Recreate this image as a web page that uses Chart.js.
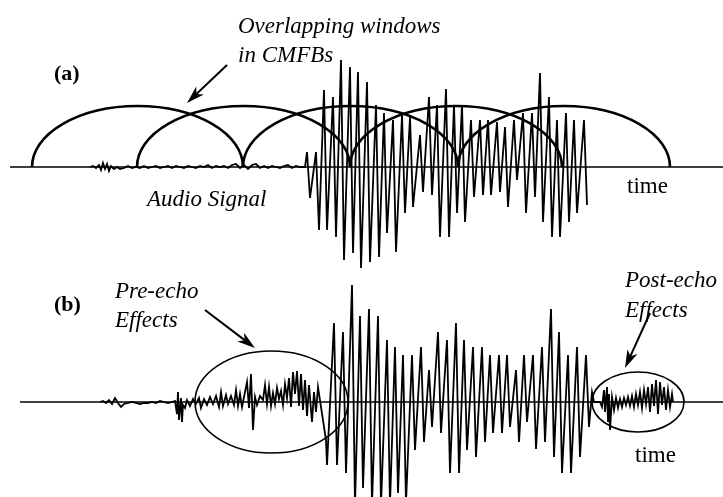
<!DOCTYPE html>
<html>
<head>
<meta charset="utf-8">
<script src="https://cdn.jsdelivr.net/npm/chart.js@4.4.1/dist/chart.umd.min.js"></script>
<style>
  html, body { margin: 0; padding: 0; background: #fff; }
  #wrap { width: 723px; height: 497px; }
</style>
</head>
<body>
<div id="wrap"><canvas id="wave" width="723" height="497"></canvas></div>
<script>
// (a) original audio signal: quiet part as [time, amplitude]
const quietA = [[90,0],[93,1],[96,-1],[99,2],[101,-3],[103,4],[105,-2],[107,3],[109,-4],[111,1],[114,-2],[117,0],
  [120,-2],[124,-1],[128,1],[132,-1],[136,0],[140,-1],[144,1],[148,-1],[152,0],[156,1],[160,-1],[164,0],[168,1],
  [172,-1],[176,1],[180,0],[184,-1],[188,1],[192,0],[196,-1],[200,1],[204,0],[208,2],[212,-1],[216,1],[220,0],
  [224,1],[228,-1],[232,2],[236,3],[240,-1],[244,2],[248,-2],[252,2],[256,3],[260,-1],[264,1],[268,-1],[272,1],
  [276,0],[280,-1],[284,1],[288,2],[292,-1],[296,1],[300,0],[305,0]];
// (a) loud part: [time, peak up, peak down]
const burstA = [[307,15,-31],[316,15,-63],[324,77,-63],[333,70,-70],[341,107,-93],[350,100,-86],[358,95,-101],
  [367,85,-95],[376,62,-90],[384,54,-66],[393,47,-85],[402,52,-46],[410,50,-40],[420,32,-25],[429,70,-28],
  [437,62,-70],[446,78,-70],[454,62,-46],[462,62,-55],[471,47,-30],[480,47,-28],[488,47,-28],[497,45,-25],
  [505,40,-40],[514,47,-13],[523,54,-46],[532,54,-30],[540,94,-55],[549,70,-70],[557,47,-70],[566,54,-55],
  [574,47,-46],[584,47,-38]];
const tailA = [[586,-8]];

// (b) coded signal
const quietB = [[100,0],[103,1],[106,-1],[109,2],[112,-2],[115,4],[118,-1],[121,-5],[124,-2],[128,-1],[132,0],
  [136,-1],[140,-2],[144,-1],[148,-1],[152,0],[156,-1],[160,1],[164,0],[168,-1],[172,0],[175,1]];
const preEchoB = [[177,-12],[178,10],[179,-18],[181,4],[182,-20],[183,-3],[185,-6],[187,2],[190,-4],[193,3],
  [196,-2],[199,4],[201,-6],[204,3],[207,-3],[210,5],[213,-2],[216,6],[219,-5],[221,10],[223,-4],[226,7],
  [228,-2],[231,6],[234,-3],[236,12],[238,-4],[240,8],[242,-5],[245,10],[247,20],[249,-6],[251,28],[253,-28],
  [255,5],[257,-3],[260,6],[263,2],[265,17],[267,-2],[269,15],[271,-4],[273,9],[275,-2],[277,14],[279,3],
  [281,11],[283,-3],[285,18],[287,4],[289,24],[291,-5],[293,30],[295,8],[297,31],[299,-4],[301,28],[303,-8],
  [305,22],[307,-14],[309,17],[312,-20],[314,10],[316,-10],[318,15],[326,-38],[327,-63]];
const burstB = [[334,79,-63],[343,70,-71],[352,117,-103],[360,86,-86],[369,93,-103],[378,86,-103],[387,62,-103],
  [395,55,-91],[403,47,-101],[412,47,-48],[421,55,-40],[429,32,-25],[438,70,-31],[447,62,-71],[456,79,-71],
  [464,62,-48],[473,55,-55],[482,55,-40],[490,47,-31],[499,47,-31],[507,47,-25],[516,32,-40],[524,47,-20],
  [533,47,-47],[542,55,-40],[551,93,-55],[559,70,-71],[568,47,-71],[577,55,-55],[586,47,-25]];
const postEchoB = [[592,10],[594,0],[600,0],[602,-5],[604,12],[605,-10],[607,15],[608,-20],[609,8],[610,-28],
  [612,5],[614,-8],[616,4],[618,-6],[620,3],[622,-5],[624,4],[626,-3],[628,5],[630,-4],[632,6],[634,-5],
  [636,8],[638,-3],[640,10],[642,-6],[644,12],[646,-2],[648,15],[650,-10],[652,18],[654,-4],[656,22],
  [658,-12],[660,20],[662,-3],[664,15],[666,-8],[668,12],[670,-5],[672,8],[673,0]];

// CMFB window edges, window i spans edges[i]..edges[i+2]
const windowEdges = [32, 137, 243, 350, 458, 562, 670];
const windowHeight = 61;
// ellipses around echo artefacts: [start, end, half height]
const echoRegions = [[195, 348, 51], [592, 684, 30]];

const toPoints = pairs => pairs.map(p => ({ x: p[0], y: p[1] }));
const burstPoints = peaks => {
  const out = [];
  peaks.forEach(p => {
    out.push({ x: p[0], y: p[1] });
    out.push({ x: p[0] + 3, y: p[2] });
  });
  return out;
};

const signalA = [...toPoints(quietA), ...burstPoints(burstA), ...toPoints(tailA)];
const signalB = [...toPoints(quietB), ...toPoints(preEchoB), ...burstPoints(burstB), ...toPoints(postEchoB)];

function arrow(ctx, x1, y1, x2, y2) {
  const ang = Math.atan2(y2 - y1, x2 - x1);
  const len = 18, half = 5.5;
  const bx = x2 - Math.cos(ang) * len, by = y2 - Math.sin(ang) * len;
  const nx = x2 - Math.cos(ang) * (len - 5), ny = y2 - Math.sin(ang) * (len - 5);
  ctx.beginPath();
  ctx.moveTo(x1, y1);
  ctx.lineTo(nx, ny);
  ctx.lineWidth = 2;
  ctx.stroke();
  ctx.beginPath();
  ctx.moveTo(x2, y2);
  ctx.lineTo(bx - Math.sin(ang) * half, by + Math.cos(ang) * half);
  ctx.lineTo(nx, ny);
  ctx.lineTo(bx + Math.sin(ang) * half, by - Math.cos(ang) * half);
  ctx.closePath();
  ctx.fill();
}

const decorations = {
  id: 'decorations',
  afterDatasetsDraw(chart) {
    const ctx = chart.ctx;
    const sx = chart.scales.x, ya = chart.scales.yA, yb = chart.scales.yB;
    const X = v => sx.getPixelForValue(v);
    const A = v => ya.getPixelForValue(v);
    const B = v => yb.getPixelForValue(v);
    ctx.save();
    ctx.strokeStyle = '#000';
    ctx.fillStyle = '#000';

    // overlapping windows
    ctx.lineWidth = 2.6;
    for (let i = 0; i + 2 < windowEdges.length; i++) {
      const x0 = X(windowEdges[i]), x1 = X(windowEdges[i + 2]);
      ctx.beginPath();
      ctx.ellipse((x0 + x1) / 2, A(0), (x1 - x0) / 2, A(0) - A(windowHeight), 0, Math.PI, 2 * Math.PI);
      ctx.stroke();
    }

    // echo ellipses
    ctx.lineWidth = 1.6;
    echoRegions.forEach(r => {
      const x0 = X(r[0]), x1 = X(r[1]);
      ctx.beginPath();
      ctx.ellipse((x0 + x1) / 2, B(0), (x1 - x0) / 2, B(0) - B(r[2]), 0, 0, 2 * Math.PI);
      ctx.stroke();
    });

    // arrows
    arrow(ctx, X(227), A(102), X(187), A(64));
    arrow(ctx, X(205), B(92), X(255), B(54));
    arrow(ctx, X(650), B(89), X(625), B(34));

    // labels
    ctx.textBaseline = 'alphabetic';
    ctx.font = 'italic 23px "Liberation Serif"';
    ctx.fillText('Overlapping windows', X(238), A(134));
    ctx.fillText('in CMFBs', X(238), A(105));
    ctx.fillText('Audio Signal', X(147), A(-39));
    ctx.fillText('Pre-echo', X(115), B(104));
    ctx.fillText('Effects', X(115), B(75));
    ctx.fillText('Post-echo', X(625), B(115));
    ctx.fillText('Effects', X(625), B(85));
    ctx.font = '23px "Liberation Serif"';
    ctx.fillText('time', X(627), A(-26));
    ctx.fillText('time', X(635), B(-60));
    ctx.font = 'bold 22px "Liberation Serif"';
    ctx.fillText('(a)', X(54), A(87));
    ctx.fillText('(b)', X(54), B(91));
    ctx.restore();
  }
};

new Chart(document.getElementById('wave'), {
  type: 'scatter',
  data: {
    datasets: [
      { data: [{ x: 10, y: 0 }, { x: 723, y: 0 }], yAxisID: 'yA', showLine: true, borderColor: '#000', borderWidth: 1.5, pointRadius: 0 },
      { data: signalA, yAxisID: 'yA', showLine: true, borderColor: '#000', borderWidth: 1.8, pointRadius: 0, tension: 0 },
      { data: [{ x: 20, y: 0 }, { x: 723, y: 0 }], yAxisID: 'yB', showLine: true, borderColor: '#000', borderWidth: 1.5, pointRadius: 0 },
      { data: signalB, yAxisID: 'yB', showLine: true, borderColor: '#000', borderWidth: 1.8, pointRadius: 0, tension: 0 }
    ]
  },
  options: {
    responsive: false,
    devicePixelRatio: 1,
    animation: false,
    layout: { padding: 0 },
    plugins: { legend: { display: false }, tooltip: { enabled: false } },
    scales: {
      x: { type: 'linear', min: 0, max: 723, display: false },
      yA: { type: 'linear', min: -330, max: 167, display: false },
      yB: { type: 'linear', min: -95, max: 402, display: false }
    }
  },
  plugins: [decorations]
});
</script>
</body>
</html>
